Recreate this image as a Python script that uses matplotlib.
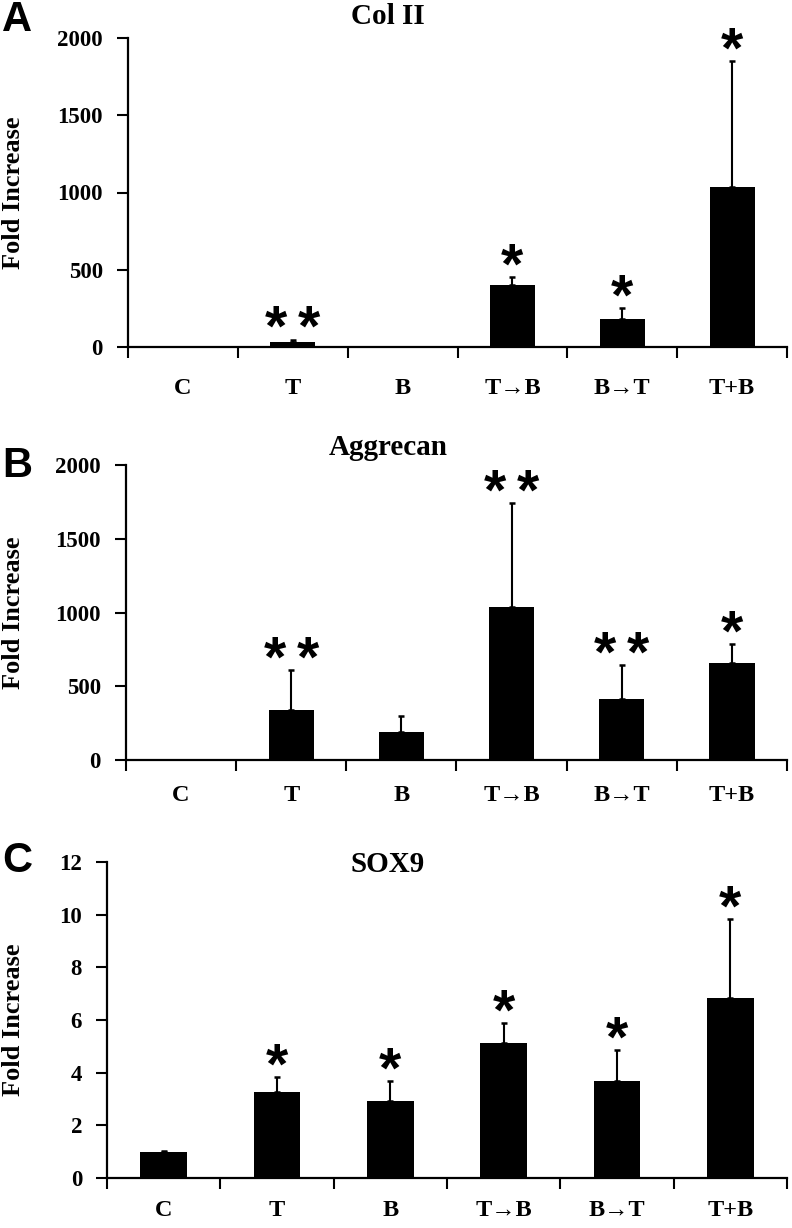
import matplotlib
matplotlib.use("Agg")
import matplotlib.pyplot as plt
from matplotlib.ticker import FixedLocator
import numpy as np

groups = ["C", "T", "B", "T\u2192B", "B\u2192T", "T+B"]

# Col II
col2_mean = [1, 30, 1, 401, 181, 1036]
col2_err = [0, 17, 0, 52, 71, 815]
col2_stars = [0, 2, 0, 1, 1, 1]

# Aggrecan
agg_mean = [1, 339, 190, 1037, 413, 658]
agg_err = [0, 271, 108, 705, 231, 128]
agg_stars = [0, 2, 0, 2, 2, 1]

# SOX9
sox_mean = [1.0, 3.26, 2.94, 5.13, 3.70, 6.85]
sox_err = [0.02, 0.56, 0.73, 0.74, 1.16, 2.98]
sox_stars = [0, 1, 1, 1, 1, 1]

W, H = 792, 1228
serif = ["Liberation Serif", "DejaVu Serif"]
fig = plt.figure(figsize=(W / 100, H / 100), dpi=100)


def px_axes(x0, x1, ytop, ybot):
    return fig.add_axes([x0 / W, 1 - ybot / H, (x1 - x0) / W, (ybot - ytop) / H])


def panel(ax, mean, err, stars, ymax, ystep, title, letter, xlab_pad, letter_y, title_y):
    x = np.arange(len(groups))
    ax.bar(x, mean, width=0.41, color="black", zorder=2)
    ax.errorbar(x, mean, yerr=[np.zeros(len(err)), err], fmt="none",
                ecolor="black", elinewidth=1.5, capsize=2.5, capthick=1.8, zorder=3)
    for xi, m, e, n in zip(x, mean, err, stars):
        offs = {1: [0], 2: [-12, 12]}.get(n, [])
        for dx in offs:
            ax.annotate("*", xy=(xi, m + e), xytext=(dx, -13), textcoords="offset points",
                        ha="center", va="bottom", fontsize=41, fontweight="bold",
                        family="Liberation Sans")
    ax.set_xlim(-0.5, len(groups) - 0.5)
    ax.set_ylim(0, ymax)
    ax.set_yticks(np.arange(0, ymax + ystep / 2, ystep))
    ax.set_xticks(x)
    ax.set_xticklabels(groups)
    ax.xaxis.set_minor_locator(FixedLocator(np.arange(-0.5, len(groups), 1.0)))
    ax.tick_params(axis="x", which="major", length=0, pad=xlab_pad)
    ax.tick_params(axis="x", which="minor", length=8, width=1.5, direction="out")
    ax.tick_params(axis="y", length=8, width=1.5, direction="out", pad=10)
    for lab in ax.get_xticklabels():
        lab.set_family(serif)
        lab.set_fontweight("bold")
        lab.set_fontsize(17.5)
    for lab in ax.get_yticklabels():
        lab.set_family(serif)
        lab.set_fontweight("bold")
        lab.set_fontsize(16.5)
    for sp in ["top", "right"]:
        ax.spines[sp].set_visible(False)
    for sp in ["left", "bottom"]:
        ax.spines[sp].set_linewidth(1.6)
    pos = ax.get_position()
    fig.text(14 / W, pos.y0 + pos.height / 2, "Fold Increase", rotation=90,
             ha="center", va="center", family=serif, fontweight="bold", fontsize=19)
    fig.text(388 / W, 1 - title_y / H, title, ha="center", va="center",
             family=serif, fontweight="bold", fontsize=21)
    fig.text(2 / W, 1 - letter_y / H, letter, ha="left", va="center",
             family="Liberation Sans", fontweight="bold", fontsize=30)


ax_a = px_axes(128, 787, 38, 347)
panel(ax_a, col2_mean, col2_err, col2_stars, 2000, 500, "Col II", "A", 22, 20, 16)

ax_b = px_axes(126, 787, 465, 760)
panel(ax_b, agg_mean, agg_err, agg_stars, 2000, 500, "Aggrecan", "B", 18, 466, 447)

ax_c = px_axes(107, 787, 862, 1178)
panel(ax_c, sox_mean, sox_err, sox_stars, 12, 2, "SOX9", "C", 16, 861, 865)

fig.savefig("out.png", dpi=100)
